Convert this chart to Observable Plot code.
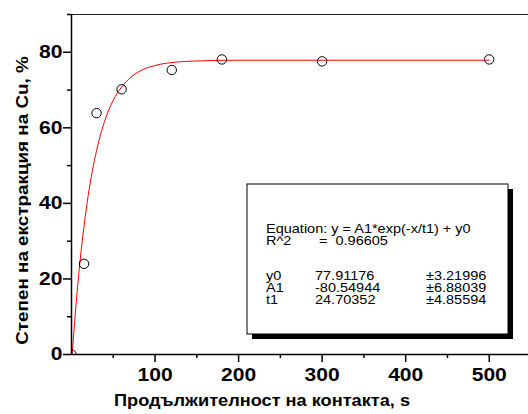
<!DOCTYPE html>
<html><head><meta charset="utf-8">
<script src="https://cdn.jsdelivr.net/npm/d3@7"></script>
<script src="https://cdn.jsdelivr.net/npm/@observablehq/plot@0.6"></script>
<style>body{margin:0;background:#fff}</style>
</head><body><div id="chart"></div>
<script>
// measured points
const timeS = [0, 15, 30, 60, 120, 180, 300, 500];
const extraction = [0, 24, 63.9, 70.2, 75.3, 78.1, 77.6, 78.1];
// fitted curve
const fitX = [0, 5, 10, 15, 20, 25, 30, 40, 50, 60, 70, 80, 100, 125, 150, 200, 300, 400, 500];
const fitY = [-2.6, 12.1, 24.2, 34.0, 42.1, 48.6, 54.0, 62.0, 67.3, 70.8, 73.2, 74.8, 76.5, 77.4, 77.7, 77.9, 77.9, 77.9, 77.9];
const xMajor = [100, 200, 300, 400, 500];
const xMinor = [50, 150, 250, 350, 450];
const yMajor = [0, 20, 40, 60, 80];
const yMinor = [10, 30, 50, 70, 90];
const xTitle = "Продължителност на контакта, s";
const yTitle = "Степен на екстракция на Cu, %";
const fitLines = [
  ["Equation: y = A1*exp(-x/t1) + y0", "", ""],
  ["R^2", "=  0.96605", ""],
  ["", "", ""],
  ["y0", "77.91176", "±3.21996"],
  ["A1", "-80.54944", "±6.88039"],
  ["t1", "24.70352", "±4.85594"]
];

const pts = timeS.map((x, i) => ({x, y: extraction[i]}));
const fit = fitX.map((x, i) => ({x, y: fitY[i]}));
const font = "'Liberation Sans', Arial, sans-serif";

const svg = Plot.plot({
  width: 528, height: 414,
  marginLeft: 71, marginRight: 0, marginTop: 14, marginBottom: 60,
  style: {fontFamily: font, background: "#fff", color: "#000"},
  x: {domain: [0, 547]},
  y: {domain: [0, 90]},
  marks: [
    Plot.ruleY([90], {stroke: "#222", strokeWidth: 1}),
    Plot.line(fit, {x: "x", y: "y", stroke: "#ff0000", strokeWidth: 1, curve: "monotone-x", clip: true}),
    Plot.dot(pts, {x: "x", y: "y", r: 4.7, stroke: "#000", strokeWidth: 1, fill: "none", clip: true}),
    Plot.axisX({ticks: xMajor, tickSize: 8, tickPadding: 6, fontSize: 18, fontWeight: "bold", label: null, strokeWidth: 1.5}),
    Plot.axisX({ticks: xMinor, tickSize: 4, text: null, label: null, strokeWidth: 1.5}),
    Plot.axisY({ticks: yMajor, tickSize: 8, tickPadding: 1, fontSize: 18, fontWeight: "bold", label: null, strokeWidth: 1.5}),
    Plot.axisY({ticks: yMinor, tickSize: 4, text: null, label: null, strokeWidth: 1.5}),
    Plot.ruleX([0], {strokeWidth: 1.5}),
    Plot.ruleY([0], {strokeWidth: 1.5}),
    Plot.text([xTitle], {frameAnchor: "bottom", textAnchor: "middle", lineAnchor: "middle", dx: -38, dy: 46, fontSize: 17, fontWeight: "bold"}),
    Plot.text([yTitle], {frameAnchor: "left", textAnchor: "middle", lineAnchor: "middle", rotate: -90, dx: -49, dy: 16, fontSize: 17, fontWeight: "bold"})
  ]
});

// fit results box (annotation in pixel space)
const s = d3.select(svg);
const box = {l: 247, t: 184, w: 261, h: 150};
const g = s.append("g").attr("text-anchor", "start");
g.append("rect").attr("x", box.l + 5).attr("y", box.t + 5).attr("width", box.w).attr("height", box.h).attr("fill", "#000");
g.append("rect").attr("x", box.l).attr("y", box.t).attr("width", box.w).attr("height", box.h).attr("fill", "#fff").attr("stroke", "#000").attr("stroke-width", 1);
const cols = [266, 315, 426];
const base = [233.5, 245.5, 257.5, 280.5, 292.5, 304.5];
fitLines.forEach((row, r) => {
  row.forEach((t, c) => {
    if (!t) return;
    g.append("text").attr("x", cols[c] + (r === 1 && c === 1 ? 4 : 0)).attr("y", base[r])
      .attr("font-size", 12).attr("font-family", font).attr("fill", "#000").text(t);
  });
});

// horizontal stretch of all text, as in the reference
svg.querySelectorAll("text").forEach(el => {
  const t = el.getAttribute("transform") || "";
  const x = parseFloat(el.getAttribute("x")) || 0;
  const txt = el.textContent;
  const k = txt === xTitle ? 1.07 : txt === yTitle ? 1.11 : (el.closest("g") === g.node() ? 1.21 : 1.17);
  el.setAttribute("transform", `${t} translate(${x},0) scale(${k},1) translate(${-x},0)`);
});
document.getElementById("chart").appendChild(svg);
</script></body></html>
